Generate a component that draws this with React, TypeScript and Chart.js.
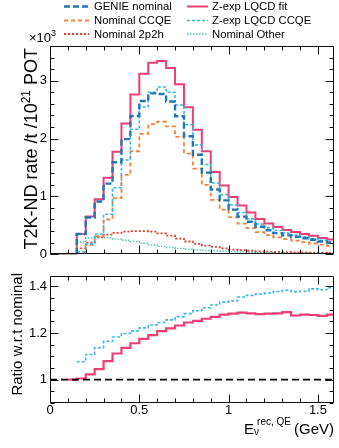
import React, { useEffect, useRef } from "react";
import { Chart, registerables } from "chart.js";

Chart.register(...registerables);

// ---------------- data ----------------
const binEdges = [0, 0.05, 0.1, 0.15, 0.2, 0.25, 0.3, 0.35, 0.4, 0.45, 0.5, 0.55, 0.6, 0.65, 0.7, 0.75, 0.8, 0.85, 0.9, 0.95, 1.0, 1.05, 1.1, 1.15, 1.2, 1.25, 1.3, 1.35, 1.4, 1.45, 1.5, 1.55, 1.6];

const genieNominal = [0, 0, 0, 0.348, 0.635, 0.91, 1.22, 1.59, 1.99, 2.39, 2.65, 2.78, 2.77, 2.64, 2.385, 2.04, 1.72, 1.41, 1.12, 0.93, 0.77, 0.65, 0.56, 0.475, 0.415, 0.365, 0.325, 0.3, 0.275, 0.25, 0.22, 0.2];
const nominalCCQE = [0, 0, 0, 0.04, 0.16, 0.31, 0.6, 0.97, 1.37, 1.78, 2.08, 2.25, 2.29, 2.21, 2.03, 1.74, 1.48, 1.2, 0.94, 0.77, 0.64, 0.53, 0.45, 0.38, 0.33, 0.29, 0.26, 0.235, 0.21, 0.185, 0.165, 0.145];
const nominal2p2h = [0, 0, 0, 0.1, 0.2, 0.29, 0.34, 0.37, 0.39, 0.4, 0.4, 0.39, 0.36, 0.32, 0.27, 0.22, 0.18, 0.15, 0.125, 0.1, 0.08, 0.07, 0.06, 0.05, 0.045, 0.04, 0.035, 0.03, 0.03, 0.025, 0.025, 0.02];
const nominalOther = [0, 0, 0, 0.21, 0.28, 0.3, 0.285, 0.26, 0.24, 0.22, 0.19, 0.16, 0.135, 0.115, 0.1, 0.085, 0.075, 0.065, 0.055, 0.05, 0.045, 0.04, 0.035, 0.03, 0.03, 0.025, 0.025, 0.02, 0.02, 0.02, 0.015, 0.015];
const zexpFit = [0, 0, 0, 0.35, 0.65, 0.95, 1.32, 1.77, 2.26, 2.76, 3.12, 3.31, 3.34, 3.22, 2.94, 2.54, 2.15, 1.78, 1.42, 1.19, 0.99, 0.84, 0.72, 0.61, 0.53, 0.47, 0.42, 0.385, 0.35, 0.32, 0.28, 0.255];
const zexpCCQE = [0, 0, 0, 0.045, 0.175, 0.35, 0.69, 1.15, 1.63, 2.16, 2.55, 2.8, 2.89, 2.8, 2.58, 2.24, 1.89, 1.55, 1.23, 1.03, 0.85, 0.72, 0.61, 0.52, 0.455, 0.41, 0.365, 0.33, 0.3, 0.27, 0.24, 0.215];

const ratioFit = [null, null, 1.0, 1.005, 1.023, 1.045, 1.079, 1.112, 1.136, 1.156, 1.175, 1.191, 1.208, 1.22, 1.232, 1.245, 1.252, 1.261, 1.269, 1.279, 1.283, 1.287, 1.284, 1.281, 1.283, 1.284, 1.289, 1.275, 1.279, 1.277, 1.273, 1.279];
const ratioCCQE = [null, null, null, 1.077, 1.108, 1.137, 1.164, 1.183, 1.198, 1.209, 1.222, 1.234, 1.245, 1.256, 1.27, 1.283, 1.295, 1.308, 1.32, 1.332, 1.337, 1.354, 1.361, 1.367, 1.371, 1.378, 1.383, 1.377, 1.379, 1.389, 1.385, 1.394];

const xRange = [0, 1.59];
const unityLine = [1, 1];
const xTickValues = [0, 0.5, 1, 1.5];
const topYTickValues = [0, 1, 2, 3];
const ratioYTickValues = [1, 1.2, 1.4];

// ---------------- helpers ----------------
const FONT = '"Liberation Sans", Arial, Helvetica, sans-serif';

function toSteps(values: (number | null)[]) {
  const pts = values.map((v, i) => ({ x: binEdges[i], y: v }));
  pts.push({ x: binEdges[values.length], y: values[values.length - 1] });
  return pts;
}

function histDs(label: string, values: (number | null)[], color: string, width: number, dash: number[]) {
  return {
    label,
    data: toSteps(values),
    borderColor: color,
    backgroundColor: color,
    borderWidth: width,
    borderDash: dash,
    stepped: "before" as const,
    pointRadius: 0,
    fill: false,
    spanGaps: false,
  };
}

type Part = { text: string; size: number; dy?: number };

function drawParts(ctx: CanvasRenderingContext2D, parts: Part[], x: number, y: number, align: "left" | "right") {
  const widths = parts.map((p) => {
    ctx.font = `${p.size}px ${FONT}`;
    return ctx.measureText(p.text).width;
  });
  const total = widths.reduce((a, b) => a + b, 0);
  let cx = align === "right" ? x - total : x;
  ctx.textAlign = "left";
  ctx.textBaseline = "alphabetic";
  parts.forEach((p, i) => {
    ctx.font = `${p.size}px ${FONT}`;
    ctx.fillText(p.text, cx, y + (p.dy || 0));
    cx += widths[i];
  });
}

const framePlugin = {
  id: "rootFrame",
  afterDatasetsDraw(chart: any, _args: any, o: any) {
    const { ctx, chartArea: a } = chart;
    const xs = chart.scales.x;
    const ys = chart.scales.y;
    const L = Math.round(a.left) + 0.5;
    const R = Math.round(a.right) - 0.5;
    const T = Math.round(a.top) + 0.5;
    const B = Math.round(a.bottom) - 0.5;
    ctx.save();
    ctx.strokeStyle = "#111";
    ctx.lineWidth = 1;
    ctx.setLineDash([]);
    ctx.beginPath();
    ctx.rect(L, T, R - L, B - T);
    const eps = 1e-6;
    for (let i = 0; ; i++) {
      const v = xs.min + i * o.xMinor;
      if (v > xs.max + eps) break;
      const major = Math.abs(v / o.xMajor - Math.round(v / o.xMajor)) < 1e-4;
      const len = major ? o.majorLen : o.minorLen;
      const px = Math.round(xs.getPixelForValue(v)) + 0.5;
      ctx.moveTo(px, B);
      ctx.lineTo(px, B - len);
      ctx.moveTo(px, T);
      ctx.lineTo(px, T + len);
    }
    const start = Math.ceil((ys.min - eps) / o.yMinor);
    for (let i = start; ; i++) {
      const v = i * o.yMinor;
      if (v > ys.max + eps) break;
      const major = Math.abs(v / o.yMajor - Math.round(v / o.yMajor)) < 1e-4;
      const len = major ? o.majorLen : o.minorLen;
      const py = Math.round(ys.getPixelForValue(v)) + 0.5;
      ctx.moveTo(L, py);
      ctx.lineTo(L + len, py);
      ctx.moveTo(R, py);
      ctx.lineTo(R - len, py);
    }
    ctx.stroke();
    ctx.restore();
  },
};

const COLORS = {
  genie: "#2176b4",
  ccqe: "#f3823a",
  p2h: "#dc3f2a",
  fit: "#ee3f74",
  lqcd: "#3bb6e8",
  other: "#4fc3b4",
};

export default function App() {
  const topRef = useRef<HTMLCanvasElement | null>(null);
  const botRef = useRef<HTMLCanvasElement | null>(null);

  useEffect(() => {
    if (!topRef.current || !botRef.current) return;

    const dsGenie = histDs("GENIE nominal", genieNominal, COLORS.genie, 2.4, [6, 3]);
    const dsCCQE = histDs("Nominal CCQE", nominalCCQE, COLORS.ccqe, 1.8, [4, 3]);
    const ds2p2h = histDs("Nominal 2p2h", nominal2p2h, COLORS.p2h, 1.8, [2, 2]);
    const dsFit = histDs("Z-exp LQCD fit", zexpFit, COLORS.fit, 2, []);
    const dsLQCD = histDs("Z-exp LQCD CCQE", zexpCCQE, COLORS.lqcd, 1.6, [3, 2]);
    const dsOther = histDs("Nominal Other", nominalOther, COLORS.other, 1.4, [1.5, 1.5]);

    const legendPlugin = {
      id: "topTexts",
      afterDraw(chart: any) {
        const ctx: CanvasRenderingContext2D = chart.ctx;
        ctx.save();
        ctx.fillStyle = "#000";
        const rows = [6.5, 20.5, 34];
        const cols = [
          { x1: 64, x2: 89, tx: 94, items: [dsGenie, dsCCQE, ds2p2h] },
          { x1: 187, x2: 208, tx: 212, items: [dsFit, dsLQCD, dsOther] },
        ];
        cols.forEach((c) => {
          c.items.forEach((d: any, i: number) => {
            ctx.save();
            ctx.strokeStyle = d.borderColor;
            ctx.lineWidth = d.borderWidth;
            ctx.setLineDash(d.borderDash);
            ctx.beginPath();
            ctx.moveTo(c.x1, rows[i]);
            ctx.lineTo(c.x2, rows[i]);
            ctx.stroke();
            ctx.restore();
            ctx.font = `11.3px ${FONT}`;
            ctx.textAlign = "left";
            ctx.textBaseline = "middle";
            ctx.fillText(d.label, c.tx, rows[i] + 0.5);
          });
        });
        drawParts(ctx, [
          { text: "\u00d710", size: 13 },
          { text: "3", size: 9, dy: -6 },
        ], 29, 42, "left");
        ctx.save();
        ctx.translate(37, 48);
        ctx.rotate(-Math.PI / 2);
        drawParts(ctx, [
          { text: "T2K-ND rate /t /10", size: 18 },
          { text: "21", size: 12, dy: -7 },
          { text: " POT", size: 18 },
        ], 0, 0, "right");
        ctx.restore();
        ctx.restore();
      },
    };

    const top = new Chart(topRef.current, {
      type: "line",
      data: { datasets: [dsGenie, dsLQCD, dsCCQE, ds2p2h, dsOther, dsFit] as any },
      options: {
        animation: false,
        responsive: false,
        maintainAspectRatio: false,
        devicePixelRatio: 1,
        layout: { padding: { top: 46, right: 5, bottom: 2, left: 0 } },
        elements: { point: { radius: 0 }, line: { tension: 0 } },
        plugins: {
          legend: { display: false },
          tooltip: { enabled: false },
          rootFrame: { xMinor: 0.1, xMajor: 0.5, yMinor: 0.2, yMajor: 1, majorLen: 8, minorLen: 4 },
        } as any,
        scales: {
          x: {
            type: "linear",
            min: xRange[0],
            max: xRange[1],
            display: false,
          },
          y: {
            type: "linear",
            min: 0,
            max: 3.6,
            grid: { display: false, drawTicks: false },
            border: { display: false },
            ticks: {
              color: "#000",
              font: { family: FONT, size: 13 },
              padding: 3,
              callback: (v: any) => String(v),
            },
            afterBuildTicks: (s: any) => {
              s.ticks = topYTickValues.map((v) => ({ value: v }));
            },
            afterFit: (s: any) => {
              s.width = 50;
            },
          },
        },
      },
      plugins: [framePlugin, legendPlugin],
    });

    const botTexts = {
      id: "botTexts",
      afterDraw(chart: any) {
        const ctx: CanvasRenderingContext2D = chart.ctx;
        ctx.save();
        ctx.fillStyle = "#000";
        ctx.save();
        ctx.translate(21.5, 8);
        ctx.rotate(-Math.PI / 2);
        drawParts(ctx, [{ text: "Ratio w.r.t nominal", size: 15 }], 0, 0, "right");
        ctx.restore();
        const base = 169;
        ctx.font = `15px ${FONT}`;
        const gevW = ctx.measureText("(GeV)").width;
        const xG = 334 - gevW;
        ctx.textAlign = "left";
        ctx.textBaseline = "alphabetic";
        ctx.fillText("(GeV)", xG, base);
        ctx.font = `10px ${FONT}`;
        const supW = ctx.measureText("rec, QE").width;
        const xSup = xG - 3 - supW;
        ctx.fillText("rec, QE", xSup, base - 9);
        ctx.fillText("\u03bd", xSup - 3, base + 1);
        ctx.font = `15px ${FONT}`;
        const eW = ctx.measureText("E").width;
        ctx.fillText("E", xSup - 3 - eW, base);
        ctx.restore();
      },
    };

    const bot = new Chart(botRef.current, {
      type: "line",
      data: {
        datasets: [
          {
            label: "unity",
            data: xRange.map((x, i) => ({ x, y: unityLine[i] })),
            borderColor: "#000",
            borderWidth: 1.6,
            borderDash: [7, 4],
            pointRadius: 0,
            fill: false,
          },
          histDs("Z-exp LQCD CCQE / Nominal CCQE", ratioCCQE, COLORS.lqcd, 1.6, [3, 2]),
          histDs("Z-exp LQCD fit / GENIE nominal", ratioFit, COLORS.fit, 2.2, []),
        ] as any,
      },
      options: {
        animation: false,
        responsive: false,
        maintainAspectRatio: false,
        devicePixelRatio: 1,
        layout: { padding: { top: 3, right: 5, bottom: 0, left: 0 } },
        elements: { point: { radius: 0 }, line: { tension: 0 } },
        plugins: {
          legend: { display: false },
          tooltip: { enabled: false },
          rootFrame: { xMinor: 0.1, xMajor: 0.5, yMinor: 0.05, yMajor: 0.2, majorLen: 8, minorLen: 4 },
        } as any,
        scales: {
          x: {
            type: "linear",
            min: xRange[0],
            max: xRange[1],
            grid: { display: false, drawTicks: false },
            border: { display: false },
            ticks: {
              color: "#000",
              font: { family: FONT, size: 13 },
              padding: 0,
              maxRotation: 0,
              callback: (v: any) => String(v),
            },
            afterBuildTicks: (s: any) => {
              s.ticks = xTickValues.map((v) => ({ value: v }));
            },
            afterFit: (s: any) => {
              s.height = 45;
            },
          },
          y: {
            type: "linear",
            min: 0.9,
            max: 1.445,
            grid: { display: false, drawTicks: false },
            border: { display: false },
            ticks: {
              color: "#000",
              font: { family: FONT, size: 13 },
              padding: 3,
              callback: (v: any) => String(v),
            },
            afterBuildTicks: (s: any) => {
              s.ticks = ratioYTickValues.map((v) => ({ value: v }));
            },
            afterFit: (s: any) => {
              s.width = 50;
            },
          },
        },
      },
      plugins: [framePlugin, botTexts],
    });

    return () => {
      top.destroy();
      bot.destroy();
    };
  }, []);

  return (
    <div style={{ position: "absolute", left: 0, top: 0, width: 339, height: 448, background: "#fff" }}>
      <canvas
        ref={topRef}
        width={339}
        height={265}
        style={{ position: "absolute", left: 0, top: 0, width: 339, height: 265 }}
      />
      <canvas
        ref={botRef}
        width={339}
        height={183}
        style={{ position: "absolute", left: 0, top: 265, width: 339, height: 183 }}
      />
    </div>
  );
}
